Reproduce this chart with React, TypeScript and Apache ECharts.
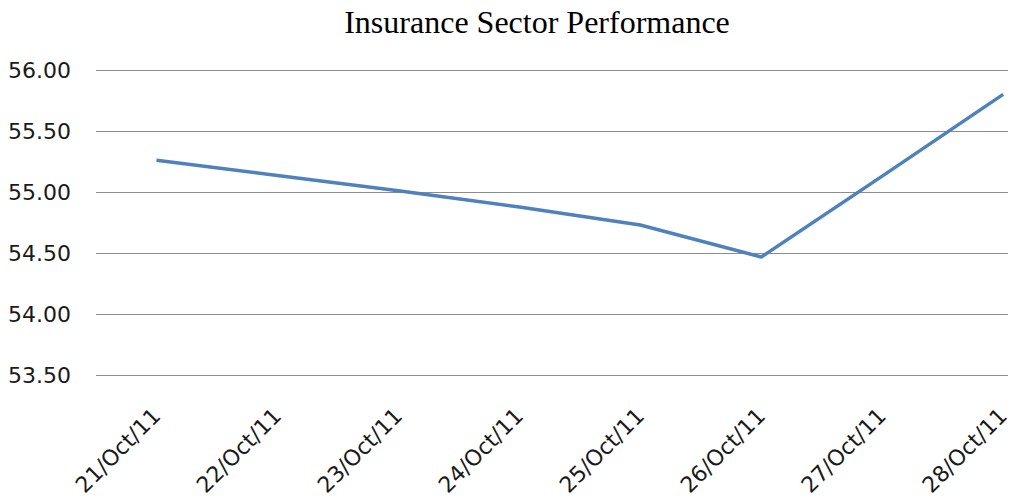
import React, { useEffect, useRef } from "react";
import * as echarts from "echarts";

const categories = [
  "21/Oct/11",
  "22/Oct/11",
  "23/Oct/11",
  "24/Oct/11",
  "25/Oct/11",
  "26/Oct/11",
  "27/Oct/11",
  "28/Oct/11",
];
const values = [55.26, 55.135, 55.01, 54.877, 54.73, 54.467, 55.13, 55.8];
const yTicks = [53.5, 54.0, 54.5, 55.0, 55.5, 56.0];
const title = "Insurance Sector Performance";

export default function App() {
  const ref = useRef<HTMLDivElement>(null);
  useEffect(() => {
    if (!ref.current) return;
    const chart = echarts.init(ref.current, null, { renderer: "svg" });
    const idx = categories.map((_, i) => i);
    chart.setOption({
      animation: false,
      backgroundColor: "#ffffff",
      title: {
        text: title,
        left: 532,
        textAlign: "center",
        top: 1,
        textStyle: {
          fontFamily: "Liberation Serif",
          fontWeight: "normal",
          fontSize: 32,
          color: "#000000",
        },
      },
      grid: {
        left: 96,
        right: 7,
        top: 70,
        bottom: 127,
        containLabel: false,
        outerBoundsMode: "none",
      },
      xAxis: {
        type: "value",
        min: -0.5,
        max: 7.04,
        axisLine: { show: false },
        axisTick: { show: false },
        splitLine: { show: false },
        axisLabel: {
          customValues: idx,
          rotate: 45,
          margin: 37,
          formatter: (v: number) => categories[Math.round(v)] ?? "",
          fontFamily: "DejaVu Sans",
          fontSize: 22,
          color: "#1a1a1a",
        },
      },
      yAxis: {
        type: "value",
        min: yTicks[0],
        max: yTicks[yTicks.length - 1],
        interval: 0.5,
        axisLine: { show: false },
        axisTick: { show: false },
        splitLine: { lineStyle: { color: "#8c8c8c", width: 1 } },
        axisLabel: {
          margin: 25,
          formatter: (v: number) => v.toFixed(2),
          fontFamily: "DejaVu Sans",
          fontSize: 22,
          color: "#1a1a1a",
        },
      },
      series: [
        {
          type: "line",
          data: values.map((v, i) => [i, v]),
          symbol: "none",
          lineStyle: { color: "#4F81BD", width: 3.5 },
        },
      ],
    });
    return () => chart.dispose();
  }, []);
  return (
    <div
      ref={ref}
      style={{ position: "fixed", left: 0, top: 0, width: 1015, height: 502 }}
    />
  );
}
